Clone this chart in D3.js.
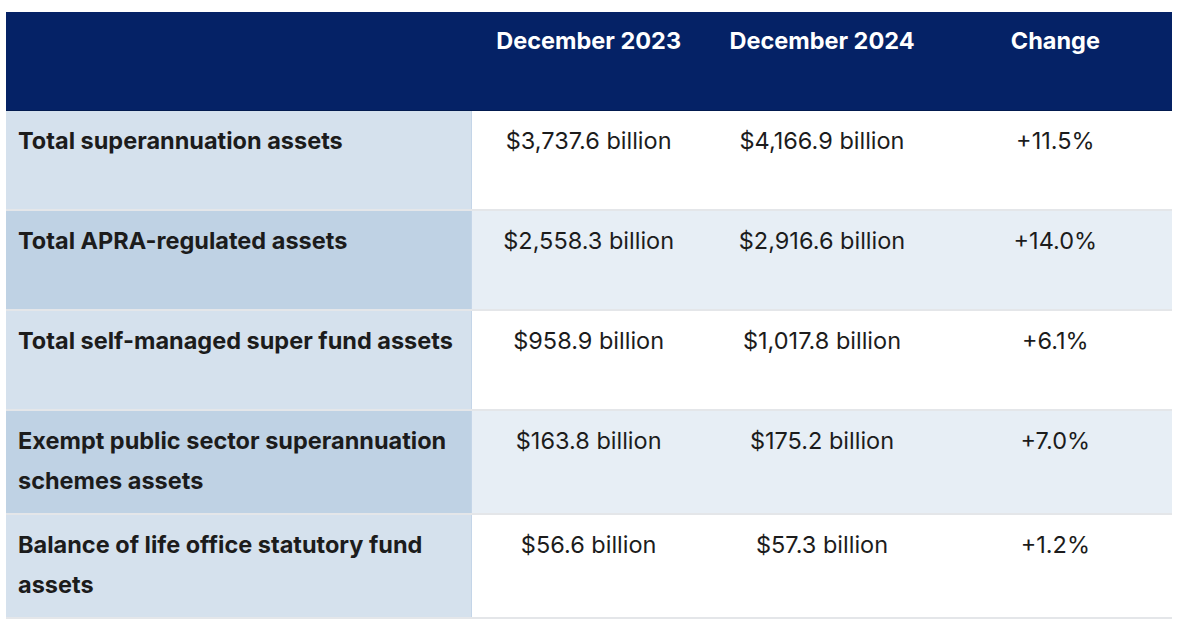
<!DOCTYPE html>
<html><head><meta charset="utf-8">
<script src="https://cdn.jsdelivr.net/npm/d3@7"></script>
<style>html,body{margin:0;padding:0;background:#fff;}svg{display:block;}</style>
</head><body><svg id="chart" width="1200" height="629"></svg>
<script>
const categories = [
  "Total superannuation assets",
  "Total APRA-regulated assets",
  "Total self-managed super fund assets",
  "Exempt public sector superannuation schemes assets",
  "Balance of life office statutory fund assets"
];
const columns = ["December 2023", "December 2024", "Change"];
const dec2023 = [3737.6, 2558.3, 958.9, 163.8, 56.6];
const dec2024 = [4166.9, 2916.6, 1017.8, 175.2, 57.3];
const change = [11.5, 14.0, 6.1, 7.0, 1.2];

const svg = d3.select("#chart");
const tLeft = 6, tRight = 1172, col1 = 472, tTop = 12, headH = 99;
const fontFam = "Inter, Roboto, 'Liberation Sans', sans-serif";
const fs = 23.5, fsHead = 23.5;
const fmtB = v => "$" + d3.format(",.1f")(v) + " billion";
const fmtC = v => "+" + d3.format(".1f")(v) + "%";

const x = d3.scaleBand().domain(columns).range([col1, tRight]);

// header
svg.append("rect").attr("x", tLeft).attr("y", tTop).attr("width", tRight - tLeft).attr("height", headH).attr("fill", "#052266");
svg.append("line").attr("x1", tLeft).attr("x2", tRight).attr("y1", tTop + headH - 0.5).attr("y2", tTop + headH - 0.5).attr("stroke", "#021a4f").attr("stroke-width", 1);
svg.selectAll("text.head").data(columns).join("text").attr("class", "head")
  .attr("x", d => x(d) + x.bandwidth() / 2).attr("y", tTop + 29).attr("dy", "0.35em")
  .attr("text-anchor", "middle").attr("fill", "#fff").attr("font-family", fontFam)
  .attr("font-weight", 700).attr("font-size", fsHead).text(d => d);

// wrap labels
const measure = svg.append("text").attr("font-family", fontFam).attr("font-weight", 700).attr("font-size", fs);
function wrap(str, maxW) {
  const words = str.split(" "); const lines = []; let cur = "";
  words.forEach(w => {
    const t = cur ? cur + " " + w : w;
    measure.text(t);
    if (measure.node().getComputedTextLength() > maxW && cur) { lines.push(cur); cur = w; } else cur = t;
  });
  lines.push(cur); return lines;
}
const rows = categories.map((c, i) => ({ cat: c, lines: wrap(c, 442), i, vals: [fmtB(dec2023[i]), fmtB(dec2024[i]), fmtC(change[i])] }));
measure.remove();
let yPos = tTop + headH;
rows.forEach(r => { r.h = r.lines.length > 1 ? 102 : 98; r.y = yPos; yPos += r.h + 2; });

const g = svg.selectAll("g.row").data(rows).join("g").attr("class", "row");
g.append("rect").attr("x", tLeft).attr("y", d => d.y).attr("width", col1 - tLeft).attr("height", d => d.h)
  .attr("fill", d => d.i % 2 ? "#bfd2e4" : "#d5e1ed");
g.append("rect").attr("x", col1).attr("y", d => d.y).attr("width", tRight - col1).attr("height", d => d.h)
  .attr("fill", d => d.i % 2 ? "#e7eef5" : "#ffffff");
g.append("line").attr("x1", col1 - 0.5).attr("x2", col1 - 0.5).attr("y1", d => d.y).attr("y2", d => d.y + d.h)
  .attr("stroke", "#c4d5e8").attr("stroke-width", 1);
g.append("rect").attr("x", tLeft).attr("y", d => d.y + d.h).attr("width", tRight - tLeft).attr("height", 2).attr("fill", "#e4e6e9");
g.append("text").attr("x", 18).attr("font-family", fontFam).attr("font-weight", 700).attr("font-size", fs).attr("fill", "#1c1c1c")
  .each(function (d) {
    d3.select(this).selectAll("tspan").data(d.lines).join("tspan")
      .attr("x", 18).attr("y", (l, k) => d.y + 30 + k * 40).attr("dy", "0.35em").text(l => l);
  });
g.each(function (d) {
  d3.select(this).selectAll("text.val").data(d.vals).join("text").attr("class", "val")
    .attr("x", (v, k) => x(columns[k]) + x.bandwidth() / 2).attr("y", d.y + 30).attr("dy", "0.35em")
    .attr("text-anchor", "middle").attr("font-family", fontFam).attr("font-size", fs).attr("fill", "#1c1c1c").text(v => v);
});
</script></body></html>
